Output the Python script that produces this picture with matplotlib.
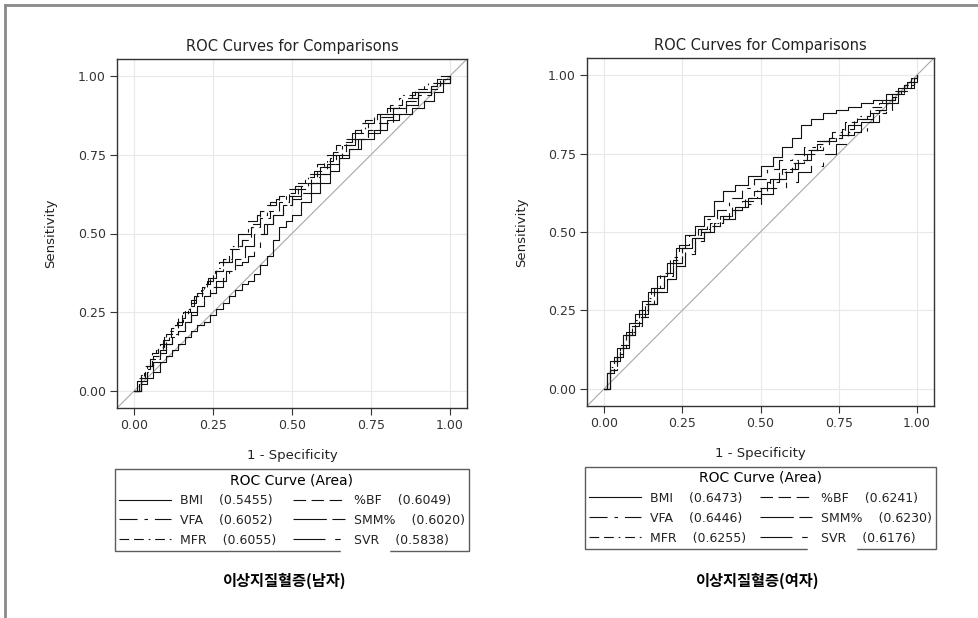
import matplotlib
matplotlib.use("Agg")
import matplotlib.pyplot as plt
from matplotlib.lines import Line2D
from matplotlib.ticker import FormatStrFormatter

plt.rcParams['font.family'] = ['DejaVu Sans']
plt.rcParams['lines.scale_dashes'] = False

# ---- data ----
names = ["BMI", "VFA", "MFR", "%BF", "SMM%", "SVR"]
areas_men = ["0.5455", "0.6052", "0.6055", "0.6049", "0.6020", "0.5838"]
areas_women = ["0.6473", "0.6446", "0.6255", "0.6241", "0.6230", "0.6176"]
captions = ["이상지질혈증(남자)", "이상지질혈증(여자)"]
tick_values = [0.0, 0.25, 0.5, 0.75, 1.0]

# men
men_bmi_x = [0, .02, .04, .06, .08, .10, .12, .14, .16, .18, .20, .22, .24, .26, .28, .30, .32, .34, .36, .38,
             .40, .42, .44, .46, .48, .50, .53, .56, .59, .62, .65, .68, .72, .76, .80, .84, .88, .92, .95, .98, 1.0]
men_bmi_y = [0, .02, .04, .06, .09, .11, .13, .15, .17, .19, .21, .22, .24, .26, .28, .30, .32, .34, .35, .37,
             .40, .43, .48, .52, .54, .56, .60, .63, .66, .70, .74, .77, .80, .83, .86, .88, .90, .92, .95, .98, 1.0]
men_vfa_x = [0, .01, .03, .05, .07, .09, .11, .13, .15, .17, .19, .21, .23, .25, .27, .30, .33, .36, .39, .42,
             .45, .48, .51, .54, .57, .60, .63, .66, .69, .72, .76, .80, .84, .88, .92, .96, 1.0]
men_vfa_y = [0, .03, .07, .10, .13, .16, .19, .21, .24, .27, .30, .32, .35, .38, .41, .45, .50, .54, .56, .59,
             .61, .63, .65, .68, .70, .73, .76, .79, .82, .85, .87, .90, .93, .95, .97, .99, 1.0]
men_mfr_x = [0, .02, .04, .06, .08, .10, .12, .14, .16, .18, .20, .22, .24, .26, .28, .31, .34, .37, .40, .43,
             .46, .49, .52, .55, .58, .61, .64, .67, .70, .73, .77, .81, .85, .89, .93, .97, 1.0]
men_mfr_y = [0, .05, .08, .11, .15, .18, .20, .23, .26, .29, .31, .34, .36, .39, .42, .46, .50, .53, .57, .60,
             .62, .64, .66, .69, .72, .75, .78, .80, .83, .86, .88, .91, .94, .96, .98, 1.0, 1.0]
men_bf_x = [0, .015, .035, .055, .075, .095, .115, .135, .155, .175, .195, .215, .235, .255, .28, .31, .34, .37, .40,
            .43, .46, .49, .52, .55, .58, .61, .64, .67, .70, .74, .78, .82, .86, .90, .94, .98, 1.0]
men_bf_y = [0, .04, .08, .12, .14, .17, .20, .22, .25, .28, .30, .33, .36, .38, .41, .45, .48, .52, .55,
            .57, .60, .62, .64, .66, .69, .72, .75, .78, .80, .83, .87, .90, .92, .95, .97, .99, 1.0]
men_smm_x = [0, .02, .04, .06, .08, .10, .12, .14, .16, .18, .20, .22, .24, .26, .29, .32, .35, .38, .41, .44,
             .47, .50, .53, .56, .59, .62, .65, .68, .71, .74, .78, .82, .86, .90, .94, .97, 1.0]
men_smm_y = [0, .03, .06, .09, .12, .15, .17, .19, .22, .24, .27, .30, .33, .35, .38, .42, .46, .50, .53, .56,
             .59, .61, .63, .66, .69, .72, .75, .77, .80, .82, .85, .88, .91, .94, .96, .98, 1.0]
men_svr_x = [0, .02, .04, .06, .08, .10, .12, .14, .16, .18, .20, .22, .24, .26, .28, .30, .32, .34, .36, .38,
             .40, .42, .44, .47, .50, .53, .56, .59, .62, .66, .70, .74, .78, .82, .86, .90, .94, .97, 1.0]
men_svr_y = [0, .04, .07, .10, .13, .15, .18, .20, .22, .25, .27, .29, .31, .33, .36, .38, .40, .41, .43, .45,
             .50, .53, .56, .59, .62, .65, .68, .71, .74, .78, .82, .85, .88, .90, .93, .95, .97, .99, 1.0]

# women
wom_bmi_x = [0, .01, .02, .04, .06, .08, .10, .12, .14, .17, .20, .23, .26, .29, .32, .35, .38, .42, .46, .50,
             .54, .57, .60, .63, .66, .70, .74, .78, .82, .86, .90, .94, .97, 1.0]
wom_bmi_y = [0, .05, .09, .13, .17, .21, .24, .28, .31, .36, .40, .45, .49, .52, .55, .60, .63, .65, .68, .71,
             .74, .77, .80, .84, .86, .88, .89, .90, .91, .92, .94, .96, .98, 1.0]
wom_vfa_x = [0, .01, .03, .05, .07, .09, .11, .13, .15, .18, .21, .24, .27, .30, .33, .36, .40, .44, .48, .52,
             .56, .60, .64, .68, .72, .76, .80, .84, .88, .92, .95, .98, 1.0]
wom_vfa_y = [0, .06, .10, .14, .18, .21, .25, .28, .32, .37, .42, .46, .49, .51, .54, .57, .61, .64, .67, .70,
             .73, .75, .77, .79, .80, .81, .82, .85, .89, .93, .96, .99, 1.0]
wom_mfr_x = [0, .02, .04, .06, .08, .10, .12, .14, .16, .19, .22, .25, .28, .31, .34, .37, .41, .45, .49, .53,
             .57, .61, .65, .69, .73, .77, .81, .85, .89, .93, .96, .99, 1.0]
wom_mfr_y = [0, .07, .11, .15, .18, .22, .25, .29, .32, .37, .41, .45, .49, .51, .53, .55, .58, .61, .64, .67,
             .70, .73, .76, .79, .82, .85, .87, .90, .92, .94, .96, .99, 1.0]
wom_bf_x = [0, .01, .03, .05, .07, .09, .11, .13, .16, .19, .22, .25, .28, .31, .34, .37, .40, .44, .48, .52,
            .56, .60, .64, .68, .72, .76, .80, .84, .88, .92, .96, .99, 1.0]
wom_bf_y = [0, .05, .09, .13, .17, .20, .23, .27, .31, .36, .40, .45, .48, .50, .52, .54, .57, .60, .63, .66,
            .69, .72, .75, .78, .80, .83, .86, .88, .91, .94, .97, .99, 1.0]
wom_smm_x = [0, .02, .04, .06, .08, .10, .12, .14, .17, .20, .23, .26, .29, .32, .35, .38, .42, .46, .50, .54,
             .58, .62, .66, .70, .74, .78, .82, .86, .90, .93, .96, .99, 1.0]
wom_smm_y = [0, .06, .10, .13, .17, .20, .23, .27, .31, .35, .39, .43, .47, .50, .53, .55, .58, .61, .64, .67,
             .70, .73, .76, .79, .81, .84, .86, .89, .92, .95, .97, .99, 1.0]
wom_svr_x = [0, .02, .04, .06, .08, .10, .12, .14, .17, .20, .23, .26, .29, .32, .35, .38, .42, .46, .50, .54,
             .58, .62, .66, .70, .74, .78, .82, .86, .90, .94, .97, 1.0]
wom_svr_y = [0, .06, .10, .14, .17, .21, .24, .27, .31, .35, .40, .44, .48, .50, .52, .54, .57, .59, .62, .64,
             .66, .69, .71, .75, .78, .82, .85, .88, .91, .95, .98, 1.0]

men_curves = [(men_bmi_x, men_bmi_y), (men_vfa_x, men_vfa_y), (men_mfr_x, men_mfr_y),
              (men_bf_x, men_bf_y), (men_smm_x, men_smm_y), (men_svr_x, men_svr_y)]
women_curves = [(wom_bmi_x, wom_bmi_y), (wom_vfa_x, wom_vfa_y), (wom_mfr_x, wom_mfr_y),
                (wom_bf_x, wom_bf_y), (wom_smm_x, wom_smm_y), (wom_svr_x, wom_svr_y)]

# line styles (in points)
line_styles = {
    "BMI": "-",
    "VFA": (0, (13, 5, 2.5, 5)),
    "MFR": (0, (7, 3.5, 7, 3.5, 1.2, 3.5)),
    "%BF": (0, (9, 4)),
    "SMM%": (0, (24, 4, 12, 4)),
    "SVR": (0, (23, 7, 4, 7)),
}

LIM = (-0.055, 1.055)


def draw_panel(ax, curves, areas):
    ax.set_xlim(LIM)
    ax.set_ylim(LIM)
    ax.grid(True, color="#e8e8e8", lw=0.8)
    ax.set_axisbelow(True)
    ax.plot(LIM, LIM, color="#a8a8a8", lw=0.8, zorder=1)

    for name, area, (xs, ys) in zip(names, areas, curves):
        ax.plot(xs, ys, drawstyle="steps-post", color="#111111", lw=0.8,
                ls=line_styles[name], label=f"{name}    ({area})", zorder=3)

    ax.set_xticks(tick_values)
    ax.set_yticks(tick_values)
    ax.xaxis.set_major_formatter(FormatStrFormatter("%.2f"))
    ax.yaxis.set_major_formatter(FormatStrFormatter("%.2f"))
    ax.tick_params(length=5, width=0.8, color="#333333", labelsize=9,
                   labelcolor="#333333", pad=3)
    for sp in ax.spines.values():
        sp.set_color("#333333")
        sp.set_linewidth(1.0)

    ax.set_title("ROC Curves for Comparisons", fontsize=10.5, color="#222222", pad=6)
    ax.set_xlabel("1 - Specificity", fontsize=9.5, color="#222222")
    ax.set_ylabel("Sensitivity", fontsize=9.5, color="#222222")
    ax.xaxis.set_label_coords(0.5, -0.118)
    ax.yaxis.set_label_coords(-0.17, 0.5)

    leg = ax.legend(loc="upper left", bbox_to_anchor=(-0.006, -0.175, 1.012, 0),
                    mode="expand", ncol=2, title="ROC Curve (Area)",
                    fontsize=9, title_fontsize=10, frameon=True, fancybox=False,
                    borderaxespad=0, handlelength=4.2, handletextpad=0.7,
                    labelspacing=0.55, borderpad=0.32, columnspacing=0.8)
    frame = leg.get_frame()
    frame.set_edgecolor("#333333")
    frame.set_linewidth(1.0)
    for t in leg.get_texts():
        t.set_color("#222222")
    return leg


fig = plt.figure(figsize=(9.79, 6.18), dpi=100)
ax_men = fig.add_axes([117 / 979, 1 - 408 / 618, 350 / 979, 349 / 618])
ax_wom = fig.add_axes([587 / 979, 1 - 406 / 618, 347 / 979, 348 / 618])

legs = [draw_panel(ax_men, men_curves, areas_men),
        draw_panel(ax_wom, women_curves, areas_women)]

fig.text(285 / 979, 1 - 581 / 618, captions[0], ha="center", va="center", fontsize=11,
         fontweight="bold", family=["Noto Sans CJK KR", "DejaVu Sans"])
fig.text(758 / 979, 1 - 581 / 618, captions[1], ha="center", va="center", fontsize=11,
         fontweight="bold", family=["Noto Sans CJK KR", "DejaVu Sans"])

# the reference has a small break in the legend's bottom border under "SVR"
fig.canvas.draw()
for leg in legs:
    svr_text = leg.get_texts()[-1]
    tb = svr_text.get_window_extent()
    fb = leg.get_frame().get_window_extent()
    x0 = (tb.x0 - 12) / fig.bbox.width
    x1 = (tb.x0 + 34) / fig.bbox.width
    yb = fb.y0 / fig.bbox.height
    fig.add_artist(Line2D([x0, x1], [yb, yb], color="white", lw=2.5, zorder=10))

# outer grey frame (left and top edges)
fig.add_artist(Line2D([5 / 979, 5 / 979], [0, 1 - 5 / 618], color="#8a8a8a", lw=2))
fig.add_artist(Line2D([5 / 979, 1], [1 - 5 / 618, 1 - 5 / 618], color="#8a8a8a", lw=2))

fig.savefig("out.png", dpi=100)
